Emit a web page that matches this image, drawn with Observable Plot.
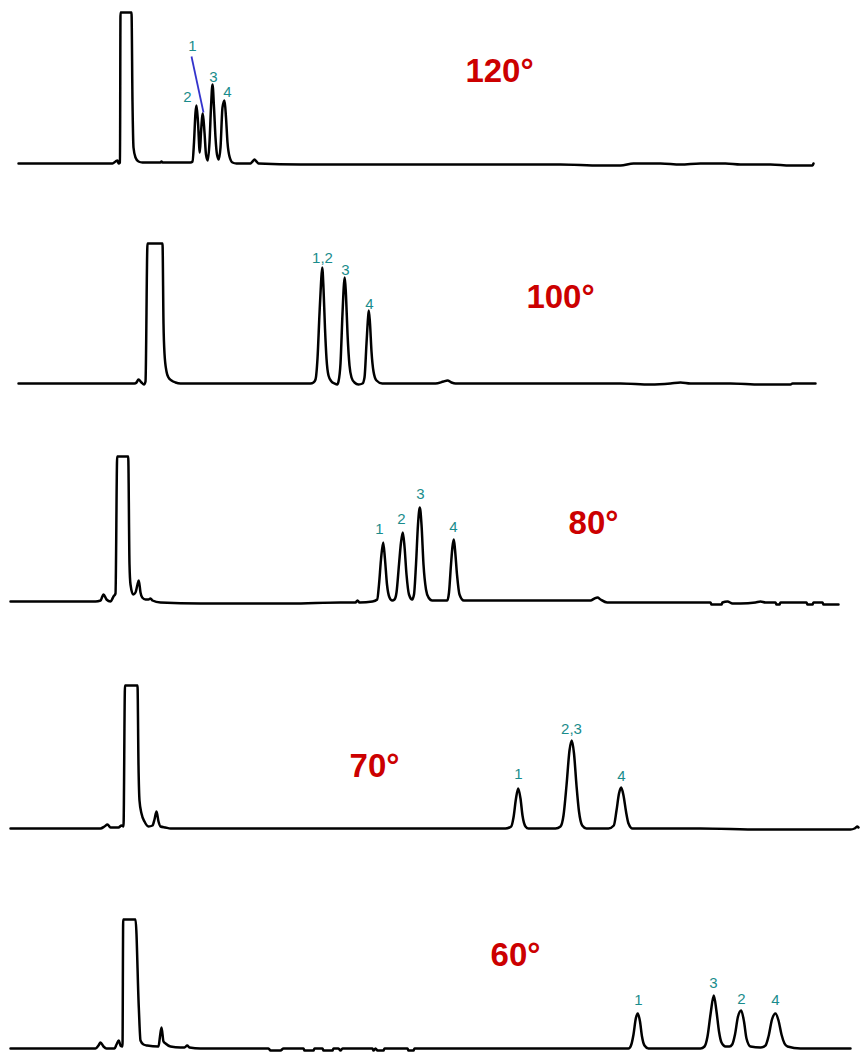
<!DOCTYPE html>
<html>
<head>
<meta charset="utf-8">
<script src="https://cdn.jsdelivr.net/npm/d3@7"></script>
<script src="https://cdn.jsdelivr.net/npm/@observablehq/plot@0.6"></script>
<style>
  html, body { margin: 0; padding: 0; background: #fff; }
  #chart svg { display: block; }
</style>
</head>
<body>
<div id="chart"></div>
<script>
// Column temperatures, top to bottom
const temps = [120, 100, 80, 70, 60];

// Detector traces: [retention, signal] pairs for each run
const trace120 = [
  [18,-1],[112,-1],[115,1],[117,2],[118,-1],[119.5,0],[120,150],[131,150],[132,60],[133,15],[135,5],[138,1],[142,0],
  [160,0],[161,1],[162,0],[190,0],[192,1],[193.5,20],[195,50],[196,57],[197.5,40],[199.3,10],[200.5,30],[202.3,49],
  [204,30],[205.5,8],[207.3,2],[209,20],[210.5,55],[212,78],[213.5,55],[215,25],[216.5,8],[218.3,3],[220,15],
  [222,55],[224,62],[225.5,45],[227,20],[229,6],[232,0],[236,-1],[250,-1],[252,1],[254,3],[256,1],[258,-1],
  [300,-2],[400,-2],[500,-2],[560,-2],[600,-3],[620,-3],[633,-1],[660,-1],[680,-2],[700,-1],[713,-1],[725,-1],
  [740,-2],[770,-2],[790,-3],[812,-3],[813,-1]
];
const trace100 = [
  [18,0],[130,0],[134,0],[136,1],[138,4],[141,1],[143.5,-1],[145,2],[147,140],[162,140],[163,60],[164,30],[166,12],
  [168,6],[171,3],[175,1],[180,0],[310,0],[313,1],[315,4],[317,25],[319,70],[320.5,100],[321.7,116],[323,95],
  [324.5,55],[326,25],[328,8],[331,2],[334,0],[336.7,-1],[338,2],[340,20],[342,70],[343.5,100],[344.3,106],
  [345.5,88],[347,50],[349,18],[351,6],[354,1],[358,-1],[362,0],[364,6],[366,40],[367.5,65],[368.3,73],[369.5,60],
  [371,32],[373,12],[376,3],[381.7,0],[435,0],[443,2],[447,3],[451,1],[455,0],[560,0],[620,0],[650,-1],[670,0],
  [680,1],[690,0],[730,0],[760,-1],[790,-1],[792,0],[815,0]
];
const trace80 = [
  [10,3],[95,3],[100,4],[103,10],[106,5],[110,3],[113,8],[115,11],[116.7,148],[127.7,148],[129,40],[130,20],
  [132.7,10],[135,12],[137,20],[138.3,24],[140,12],[141.7,7],[145,5],[148,5],[150,6],[152,4],[160,2],[200,1],
  [290,1],[340,2],[355,2],[357,4],[359,2],[372,3],[376.7,5],[378.5,20],[380.5,45],[382.7,62],[384.5,45],
  [386.5,20],[389,7],[391.7,4],[394,5],[396,12],[398.5,40],[400.5,62],[402.3,72],[404,58],[406,30],[408.5,10],
  [411.7,5],[413.5,10],[415.5,40],[417.5,80],[419.3,97],[421,80],[423,40],[425.5,15],[428,7],[431.7,4],
  [446.7,4],[448.5,12],[450.5,40],[452,58],[453.3,65],[454.5,55],[456.5,30],[459,10],[463.3,4],[590,4],
  [594,6],[597,7],[600,5],[606.7,2],[710,2],[711,0],[721,0],[722,2],[727,3],[732,1],[740,1],[755,2],[760,3],
  [765,2],[775,2],[776,0],[779,0],[780,2],[806,2],[807,0],[812,0],[813,2],[822,2],[823,0],[838,0]
];
const trace70 = [
  [10,-3],[100,-3],[104,-1],[107,1],[110,-2],[118,-2],[121,0],[123,-1],[124.5,140],[137,140],[138,60],[139,25],
  [141,12],[144,4],[148,-1],[152,0],[154,6],[156,14],[158,4],[160,-1],[165,-2],[170,-3],[300,-3],[505,-3],
  [510.7,-1],[513,8],[515.5,27],[517.7,37],[520,27],[522,10],[525,-1],[528,-3],[555,-3],[560,-1],[563,10],
  [566,40],[569,75],[571.3,85],[573.5,72],[576,40],[578.5,14],[581.7,0],[586,-3],[608,-3],[613.3,0],[616,15],
  [618.5,32],[620.7,38],[623,30],[625.5,14],[628,2],[632,-3],[700,-3],[760,-4],[850,-4],[854,-3],[857,-1],[858,-2]
];
const trace60 = [
  [10,-2],[95,-2],[98,1],[100,4],[103,0],[106,-2],[114,-2],[116,2],[118.3,6],[120,1],[122,0],[122.7,127],
  [135,127],[138.3,39],[140,6],[143,2],[146.7,1],[158,0],[159.5,10],[161,19],[163,5],[165,3],[170,0],[180,-1],
  [184,-1],[186.7,1],[189,-1],[200,-2],[268,-2],[270,-4],[280,-4],[283,-2],[303,-2],[304,-4],[313,-4],[314,-2],
  [322,-2],[323,-4],[332,-4],[333,-2],[338,-2],[340,-4],[342,-2],[372,-2],[373,-4],[375,-2],[377,-4],[383,-4],
  [384,-2],[407,-2],[408,-4],[413,-4],[414,-2],[500,-2],[628,-2],[630.5,1],[633,12],[635.3,28],[637.3,33],
  [639.5,25],[641.5,10],[644,1],[648,-2],[700,-2],[704,0],[707,10],[710,32],[713.3,51],[716,35],[718.5,15],
  [721,4],[725,0],[729,0],[731.7,2],[734.5,12],[737.5,30],[740.7,36],[743.5,25],[746,8],[750,0],[760,-1],
  [765,1],[768,10],[771.5,27],[775,33],[778,26],[781,12],[784,3],[787,0],[800,-2],[850,-2]
];

// Peak identifiers: [temperature, label, retention, signal level of the label]
const peakLabels = [
  [120,"2",187,65],[120,"3",213,85],[120,"4",227,70],[120,"1",192,116],
  [100,"1,2",322,125],[100,"3",345,113],[100,"4",369,79],
  [80,"1",379,75],[80,"2",401,85],[80,"3",420,110],[80,"4",453,77],
  [70,"1",518,51],[70,"2,3",571,96],[70,"4",621,49],
  [60,"1",638,46],[60,"3",713,63],[60,"2",741,47],[60,"4",775,46]
];

// Leader from the "1" tag to its peak in the 120° run: [temperature, x1, s1, x2, s2]
const leaders = [[120, 191, 106, 203, 50]];

// Run temperature tags: [temperature, text, retention, signal]
const tempLabels = [
  [120,"120°",499,91],[100,"100°",560,86],[80,"80°",593,81],[70,"70°",374,59],[60,"60°",515,91]
];

const traces = {120: trace120, 100: trace100, 80: trace80, 70: trace70, 60: trace60};
const points = temps.flatMap(t => traces[t].map(([x, s]) => ({temp: t, x, s})));
const peaks = peakLabels.map(([temp, label, x, s]) => ({temp, label, x, s}));
const leaderRows = leaders.map(([temp, x1, s1, x2, s2]) => ({temp, x1, s1, x2, s2}));
const tags = tempLabels.map(([temp, text, x, s]) => ({temp, text, x, s}));

const chart = Plot.plot({
  width: 867,
  height: 1060,
  marginTop: 0,
  marginLeft: 0,
  marginRight: 0,
  marginBottom: -45,
  style: {fontFamily: "'Liberation Sans', Arial, sans-serif", background: "#fff"},
  x: {domain: [0, 867], axis: null},
  y: {domain: [-59, 162], axis: null},
  fy: {domain: temps, axis: null, padding: 0},
  marks: [
    Plot.line(points, {
      x: "x", y: "s", fy: "temp", z: "temp",
      stroke: "#000", strokeWidth: 2.5, strokeLinejoin: "round", curve: "monotone-x"
    }),
    Plot.link(leaderRows, {
      x1: "x1", y1: "s1", x2: "x2", y2: "s2", fy: "temp",
      stroke: "#3333cc", strokeWidth: 1.8
    }),
    Plot.text(peaks, {
      x: "x", y: "s", fy: "temp", text: "label",
      fill: "#1a8c8c", fontSize: 15
    }),
    Plot.text(tags, {
      x: "x", y: "s", fy: "temp", text: "text",
      fill: "#cc0000", fontSize: 33, fontWeight: "bold"
    })
  ]
});

document.getElementById("chart").appendChild(chart);
</script>
</body>
</html>
